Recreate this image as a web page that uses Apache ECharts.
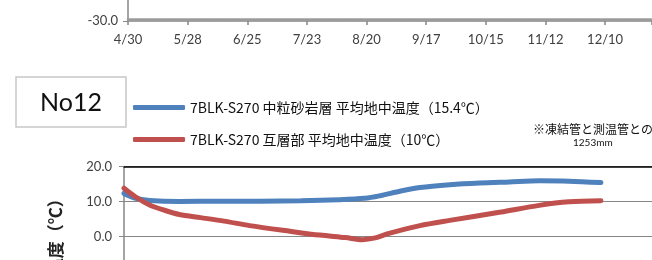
<!DOCTYPE html>
<html>
<head>
<meta charset="utf-8">
<script src="https://cdn.jsdelivr.net/npm/echarts@6/dist/echarts.min.js"></script>
<style>
  html, body { margin: 0; padding: 0; background: #fff; }
  #chart { width: 652px; height: 260px; }
</style>
</head>
<body>
<div id="chart"></div>
<script>
// x tick labels of the chart above (one every 28 days from 4/30)
const dateLabels = ['4/30', '5/28', '6/25', '7/23', '8/20', '9/17', '10/15', '11/12', '12/10'];

// day offsets from 4/30 and readings, No12 chart
const blueDays = [0, 5, 12, 26, 45, 64, 83, 101, 113, 120, 130, 139, 153, 167, 181, 195, 209, 224];
const blueTemps = [12.3, 11.0, 10.3, 10.0, 10.1, 10.1, 10.2, 10.5, 10.9, 11.6, 13.0, 14.0, 14.8, 15.3, 15.6, 15.9, 15.8, 15.4];

const redDays = [0, 5, 12, 19, 26, 36, 47, 59, 78, 92, 104, 112, 118, 124, 139, 153, 177, 195, 209, 224];
const redTemps = [13.8, 11.5, 9.0, 7.5, 6.3, 5.4, 4.4, 3.1, 1.5, 0.4, -0.3, -0.9, -0.4, 0.8, 3.1, 4.6, 7.0, 8.9, 9.9, 10.2];

const seriesNames = ['7BLK-S270 中粒砂岩層 平均地中温度（15.4℃）', '7BLK-S270 互層部 平均地中温度（10℃）'];

const latin = 'Lato, "Noto Sans CJK JP", sans-serif';
const cjk = '"Noto Sans CJK JP", sans-serif';
const axisGray = '#868686';

const topDays = 246;
const topWidth = 652 - 128;

const chart = echarts.init(document.getElementById('chart'));

const hiddenAxis = {
    axisLine: { show: false },
    axisTick: { show: false },
    axisLabel: { show: false },
    splitLine: { show: false }
};

const option = {
    animation: false,
    textStyle: { fontFamily: latin },
    grid: [
        // plot areas run past the edges of the window
        { left: 128, right: 0, top: -40, height: 61, outerBoundsMode: 'none' },
        { left: 124, right: 0, top: 166.5, height: 140, outerBoundsMode: 'none' },
        // thin strip whose bottom edge carries the daily dots
        { left: 128, right: 0, top: -40, height: 59, outerBoundsMode: 'none' }
    ],
    legend: {
        orient: 'vertical',
        left: 133,
        top: 99,
        padding: 0,
        itemWidth: 52,
        itemHeight: 5,
        itemGap: 15,
        icon: 'roundRect',
        textStyle: { fontFamily: cjk, fontSize: 14, color: '#111', lineHeight: 17 },
        data: seriesNames
    },
    xAxis: [
        {
            gridIndex: 0, type: 'value', min: 0, max: topDays, interval: 28,
            position: 'bottom',
            axisLine: { onZero: false, lineStyle: { color: axisGray, width: 1.5 } },
            axisTick: { show: true, length: 4, lineStyle: { color: axisGray, width: 1.5 } },
            splitLine: { show: false },
            axisLabel: {
                margin: 12, fontSize: 13, color: '#404040',
                formatter: v => dateLabels[v / 28] || ''
            }
        },
        {
            gridIndex: 1, type: 'value', min: 0, max: 248,
            position: 'bottom',
            ...hiddenAxis
        },
        {
            gridIndex: 1, type: 'value', min: 0, max: 248, position: 'top',
            axisLine: { onZero: false, lineStyle: { color: '#000', width: 1.5 } },
            axisTick: { show: false },
            axisLabel: { show: false },
            splitLine: { show: false }
        },
        {
            // dotted line of daily tick marks just above the axis line
            gridIndex: 2, type: 'value', min: 0, max: topDays,
            position: 'bottom',
            axisLine: {
                show: true, onZero: false,
                lineStyle: { color: '#9a9a9a', width: 2.5, type: [1, topWidth / topDays - 1] }
            },
            axisTick: { show: false },
            axisLabel: { show: false },
            splitLine: { show: false }
        }
    ],
    yAxis: [
        {
            gridIndex: 0, type: 'value', min: -30, max: -20, interval: 10,
            axisLine: { show: true, lineStyle: { color: axisGray, width: 1.5 } },
            axisTick: { show: true, length: 5, lineStyle: { color: axisGray } },
            splitLine: { show: false },
            axisLabel: {
                margin: 10, fontSize: 13, color: '#404040',
                formatter: v => v.toFixed(1)
            }
        },
        {
            gridIndex: 1, type: 'value', min: -20, max: 20, interval: 10,
            name: '  温度（℃）',
            nameLocation: 'middle',
            nameRotate: 90,
            nameGap: 60,
            nameTextStyle: { fontFamily: cjk, fontSize: 17, fontWeight: 'bold', color: '#222' },
            axisLine: { show: true, lineStyle: { color: axisGray, width: 1.5 } },
            axisTick: { show: true, length: 5, lineStyle: { color: axisGray } },
            splitLine: { lineStyle: { color: axisGray, width: 1.2 } },
            axisLabel: {
                margin: 12, fontSize: 13, color: '#404040',
                formatter: v => v.toFixed(1)
            }
        },
        {
            gridIndex: 2, type: 'value', min: 0, max: 1,
            ...hiddenAxis
        }
    ],
    series: [
        {
            name: seriesNames[0],
            type: 'line',
            xAxisIndex: 1, yAxisIndex: 1,
            data: blueDays.map((d, i) => [d, blueTemps[i]]),
            showSymbol: false,
            smooth: 0.3,
            color: '#4F81BD',
            lineStyle: { width: 5, cap: 'round' }
        },
        {
            name: seriesNames[1],
            type: 'line',
            xAxisIndex: 1, yAxisIndex: 1,
            data: redDays.map((d, i) => [d, redTemps[i]]),
            showSymbol: false,
            smooth: 0.3,
            color: '#C0504D',
            lineStyle: { width: 5, cap: 'round' }
        }
    ],
    graphic: [
        {
            type: 'rect',
            shape: { x: 16, y: 77, width: 110, height: 50 },
            style: { fill: '#fff', stroke: '#c8c8c8', lineWidth: 1.5 }
        },
        {
            type: 'text',
            x: 71, y: 103,
            style: { text: 'No12', fontFamily: latin, fontSize: 25, fill: '#111', align: 'center', verticalAlign: 'middle' }
        },
        {
            type: 'text',
            x: 533, y: 129,
            style: { text: '※凍結管と測温管との', fontFamily: cjk, fontSize: 12, fill: '#111', verticalAlign: 'middle' }
        },
        {
            type: 'text',
            x: 573, y: 143,
            style: { text: '1253mm', fontFamily: latin, fontSize: 10, fill: '#111', verticalAlign: 'middle' }
        }
    ]
};

chart.setOption(option);
</script>
</body>
</html>
